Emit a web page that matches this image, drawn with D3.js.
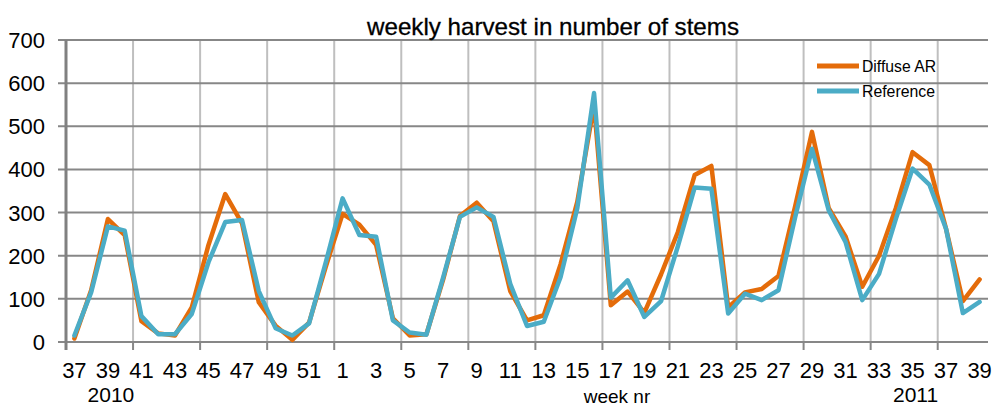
<!DOCTYPE html>
<html>
<head>
<meta charset="utf-8">
<script src="https://cdn.jsdelivr.net/npm/d3@7"></script>
<style>
  body { margin: 0; background: #fff; }
  svg { display: block; }
  text { font-family: "Liberation Sans Narrow", "Liberation Sans", Arial, sans-serif; fill: #000; }
</style>
</head>
<body>
<svg id="chart" width="994" height="408"></svg>
<script>
const weeks = [37,38,39,40,41,42,43,44,45,46,47,48,49,50,51,52,
  1,2,3,4,5,6,7,8,9,10,11,12,13,14,15,16,17,18,19,20,21,22,23,24,25,26,27,28,29,30,31,32,33,34,35,36,37,38,39];
const diffuseAR = [8,120,285,248,48,20,15,80,225,343,275,92,38,5,45,175,
  297,272,225,55,15,18,145,292,323,280,118,50,62,180,325,550,85,117,68,157,255,387,408,80,115,123,153,315,487,310,245,128,200,310,440,410,262,95,145];
const reference = [15,115,268,258,60,18,18,65,185,278,283,118,32,15,43,185,
  333,248,244,50,22,17,150,290,312,290,135,37,47,150,310,577,103,143,58,95,222,358,355,66,112,97,120,290,448,305,232,97,158,285,402,365,262,67,93];
const yTicks = [0,100,200,300,400,500,600,700];
const seriesNames = ["Diffuse AR", "Reference"];
const colors = ["#E46C0A", "#4BACC6"];
const yearLabels = [{label: "2010", idx: 2}, {label: "2011", idx: 50}];

const svg = d3.select("#chart");
const pL = 66, pR = 988, pT = 40, pB = 342;

const x = d3.scaleBand().domain(d3.range(weeks.length)).range([pL, pR]).padding(0);
const cx = i => x(i) + x.bandwidth() / 2;
const y = d3.scaleLinear().domain([0, 700]).range([pB, pT]);

// vertical gridlines every 4 categories
const vIdx = d3.range(4, weeks.length, 4);
svg.append("g").selectAll("line").data(vIdx).join("line")
  .attr("x1", d => x(d)).attr("x2", d => x(d))
  .attr("y1", pT).attr("y2", pB)
  .attr("stroke", "#bfbfbf").attr("stroke-width", 2);

// horizontal gridlines
svg.append("g").selectAll("line").data(yTicks).join("line")
  .attr("x1", pL - 8).attr("x2", pR)
  .attr("y1", d => y(d)).attr("y2", d => y(d))
  .attr("stroke", "#878787").attr("stroke-width", 2);

// bottom tick marks
svg.append("g").selectAll("line").data(d3.range(0, weeks.length, 4)).join("line")
  .attr("x1", d => x(d)).attr("x2", d => x(d))
  .attr("y1", pB).attr("y2", pB + 8)
  .attr("stroke", "#878787").attr("stroke-width", 2);

// y axis line
svg.append("line").attr("x1", pL).attr("x2", pL).attr("y1", pT).attr("y2", pB + 8)
  .attr("stroke", "#808080").attr("stroke-width", 3);

// y labels
svg.append("g").selectAll("text").data(yTicks).join("text")
  .attr("x", 45).attr("y", d => y(d) + 8)
  .attr("text-anchor", "end").attr("font-size", 22)
  .text(d => d);

// x labels
const xl = d3.range(0, weeks.length, 2);
svg.append("g").selectAll("text").data(xl).join("text")
  .attr("x", i => cx(i)).attr("y", 378)
  .attr("text-anchor", "middle").attr("font-size", 22)
  .text(i => weeks[i]);

// year labels
svg.append("g").selectAll("text").data(yearLabels).join("text")
  .attr("x", d => cx(d.idx) + 3).attr("y", 402)
  .attr("text-anchor", "middle").attr("font-size", 21)
  .text(d => d.label);

svg.append("text").attr("x", 617).attr("y", 403).attr("text-anchor", "middle")
  .attr("font-size", 19).text("week nr");

// title
svg.append("text").attr("x", 553).attr("y", 35).attr("text-anchor", "middle")
  .attr("font-size", 24).attr("textLength", 372).attr("lengthAdjust", "spacingAndGlyphs")
  .attr("stroke", "#000").attr("stroke-width", 0.3)
  .text("weekly harvest in number of stems");

// lines
const line = d3.line().x((d, i) => cx(i)).y(d => y(d));
[diffuseAR, reference].forEach((s, k) => {
  svg.append("path").datum(s)
    .attr("d", line).attr("fill", "none")
    .attr("stroke", colors[k]).attr("stroke-width", 4.5)
    .attr("stroke-linejoin", "round").attr("stroke-linecap", "round");
});

// legend
const lg = svg.append("g");
seriesNames.forEach((n, k) => {
  const ly = 66 + k * 25;
  lg.append("line").attr("x1", 817).attr("x2", 859).attr("y1", ly).attr("y2", ly)
    .attr("stroke", colors[k]).attr("stroke-width", 5);
  lg.append("text").attr("x", 862).attr("y", ly + 6).attr("font-size", 17)
    .attr("textLength", k === 0 ? 74 : 73).attr("lengthAdjust", "spacingAndGlyphs")
    .text(n);
});
</script>
</body>
</html>
